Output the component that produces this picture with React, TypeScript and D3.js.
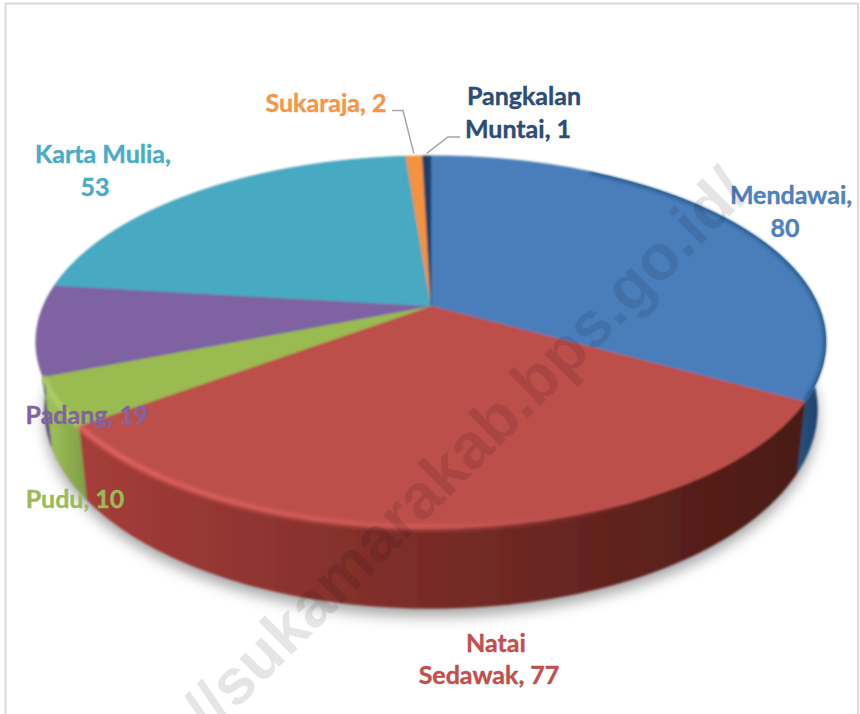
import React from "react";
import * as d3 from "d3";

const categories = ["Mendawai", "Natai Sedawak", "Pudu", "Padang", "Karta Mulia", "Sukaraja", "Pangkalan Muntai"];
const values = [80, 77, 10, 19, 53, 2, 1];
const topColors = ["#4a7ebb", "#bd4f4c", "#99bb4f", "#7f62a1", "#46a9c2", "#f4923f", "#1f3f68"];
const labelColors = ["#4f81bd", "#c0504d", "#9bbb59", "#8064a2", "#4bacc6", "#f79646", "#2c4d75"];
const sideStops = [
  ["#2b5a8c", "#1c3f63"],
  ["#a53d3a", "#4a1a15"],
  ["#9dbe58", "#7f9d44"],
  ["#5f4a80", "#5f4a80"],
  ["#357f93", "#357f93"],
  ["#c57a34", "#c57a34"],
  ["#1f3f68", "#1f3f68"],
];

const WIDTH = 860;
const HEIGHT = 714;

// tilted disc, k is the perspective strength, shrink narrows the lower disc
const cx = 431;
const cy = 306;
const rx = 387.6;
const ry = 179;
const k = 0.193;
const depth = 65;
const shrink = 0.022;

const project = (angle: number, drop = 0, r = 1): [number, number] => {
  const u = r * Math.sin(angle);
  const v = -r * Math.cos(angle);
  const s = 1 / (1 - k * v);
  const narrow = 1 - (shrink * drop) / depth;
  return [cx + rx * u * s * narrow, cy + (ry * v + drop) * s];
};

const arcPoints = (a0: number, a1: number, drop = 0) => {
  const n = Math.max(2, Math.ceil((a1 - a0) / 0.02));
  return d3.range(n + 1).map(i => project(a0 + ((a1 - a0) * i) / n, drop));
};

const line = d3.line();

const labelLayout = [
  { rows: 1, x: [791, 785], y: [204, 237] },
  { rows: 1, x: [496, 489], y: [652, 684] },
  { rows: 0, x: [75], y: [508] },
  { rows: 0, x: [87], y: [424] },
  { rows: 2, x: [103, 95], y: [163, 196] },
  { rows: 0, x: [326], y: [112] },
  { rows: 1, x: [524, 518], y: [105, 138] },
];

const leaderElbows: ([number, number][] | null)[] = [
  null, null, null, null, null,
  [[392, 110.5], [403, 110.5]],
  [[460, 137], [448, 137]],
];

const App = () => {
  const slices = d3.pie<number>().sort(null)(values);
  const fullRim = arcPoints(0, 2 * Math.PI, depth);
  const topRim = line(arcPoints(0, 2 * Math.PI))! + "Z";

  return (
    <svg
      width={WIDTH}
      height={HEIGHT}
      style={{ position: "absolute", left: 0, top: 0, background: "#fff" }}
      fontFamily="Lato, 'Open Sans', sans-serif"
    >
      <defs>
        <clipPath id="topClip">
          <path d={topRim} />
        </clipPath>
        <filter id="shadowBlur" x="-10%" y="-10%" width="120%" height="130%">
          <feGaussianBlur stdDeviation="7" />
        </filter>
        <filter id="rimBlur" x="-5%" y="-20%" width="110%" height="140%">
          <feGaussianBlur stdDeviation="2.2" />
        </filter>
        <filter id="soft" x="-2%" y="-2%" width="104%" height="104%">
          <feGaussianBlur stdDeviation="0.8" />
        </filter>
        {slices.map((d, i) => {
          const xs = arcPoints(d.startAngle, d.endAngle, depth).map(p => p[0]);
          return (
            <linearGradient
              key={i}
              id={`side${i}`}
              gradientUnits="userSpaceOnUse"
              x1={i === 0 ? 790 : Math.min(...xs)}
              x2={i === 0 ? 822 : Math.max(...xs)}
              y1={0}
              y2={0}
            >
              <stop offset="0" stopColor={sideStops[i][0]} />
              <stop offset="1" stopColor={sideStops[i][1]} />
            </linearGradient>
          );
        })}
        <linearGradient id="rimGlow" gradientUnits="userSpaceOnUse" x1={85} x2={660} y1={0} y2={0}>
          <stop offset="0" stopColor="#ee6a68" stopOpacity={0.85} />
          <stop offset="0.6" stopColor="#dd5f5d" stopOpacity={0.7} />
          <stop offset="1" stopColor="#c0504d" stopOpacity={0} />
        </linearGradient>
      </defs>

      <path d="M5.5 714V3.5H858V714" fill="none" stroke="#d9d9d9" strokeWidth={2} />

      <path
        d={line(fullRim.map(([x, y]) => [x, y + 8]))! + "Z"}
        fill="#808080"
        opacity={0.7}
        filter="url(#shadowBlur)"
      />

      <g filter="url(#soft)">
        {slices.map((d, i) => (
          <path
            key={i}
            d={line([...arcPoints(d.startAngle, d.endAngle), ...arcPoints(d.startAngle, d.endAngle, depth).reverse()])! + "Z"}
            fill={`url(#side${i})`}
            stroke={`url(#side${i})`}
            strokeWidth={0.6}
          />
        ))}
        {slices.map((d, i) => (
          <path
            key={i}
            d={line([project(0, 0, 0), ...arcPoints(d.startAngle, d.endAngle)])! + "Z"}
            fill={topColors[i]}
            stroke={topColors[i]}
            strokeWidth={0.5}
          />
        ))}
      </g>

      <path
        d={line(arcPoints(slices[1].startAngle, slices[1].endAngle))!}
        fill="none"
        stroke="url(#rimGlow)"
        strokeWidth={5}
        filter="url(#rimBlur)"
      />
      <path
        d={line(arcPoints(slices[2].startAngle, slices[2].endAngle))!}
        fill="none"
        stroke="#b2d266"
        strokeWidth={5}
        filter="url(#rimBlur)"
      />
      <g clipPath="url(#topClip)">
        <path
          d={line(arcPoints(0.5, slices[0].endAngle))!}
          fill="none"
          stroke="#24507f"
          strokeWidth={4}
          filter="url(#rimBlur)"
        />
      </g>

      {slices.map((d, i) => {
        const elbow = leaderElbows[i];
        if (!elbow) return null;
        const mid = (d.startAngle + d.endAngle) / 2;
        return (
          <path
            key={i}
            d={line([...elbow, project(mid, 0, 1.02)])!}
            fill="none"
            stroke="#a6a6a6"
            strokeWidth={1.5}
          />
        );
      })}

      {categories.map((name, i) => {
        const layout = labelLayout[i];
        const words = `${name}, ${values[i]}`.split(" ");
        const rows = layout.rows ? [words.slice(0, layout.rows).join(" "), words.slice(layout.rows).join(" ")] : [words.join(" ")];
        return rows.map((row, j) => (
          <text
            key={`${i}-${j}`}
            x={layout.x[j]}
            y={layout.y[j]}
            textAnchor="middle"
            fontSize={25}
            fontWeight={700}
            fill={labelColors[i]}
            stroke={labelColors[i]}
            strokeWidth={0.4}
          >
            {row}
          </text>
        ));
      })}

      <text
        transform="translate(751,195) rotate(-45)"
        textAnchor="end"
        fontFamily="'Liberation Sans', Arial, sans-serif"
        fontWeight={700}
        fontSize={64}
        fill="#000"
        fillOpacity={0.1}
      >
        //sukamarakab.bps.go.id/
      </text>
    </svg>
  );
};

export default App;
